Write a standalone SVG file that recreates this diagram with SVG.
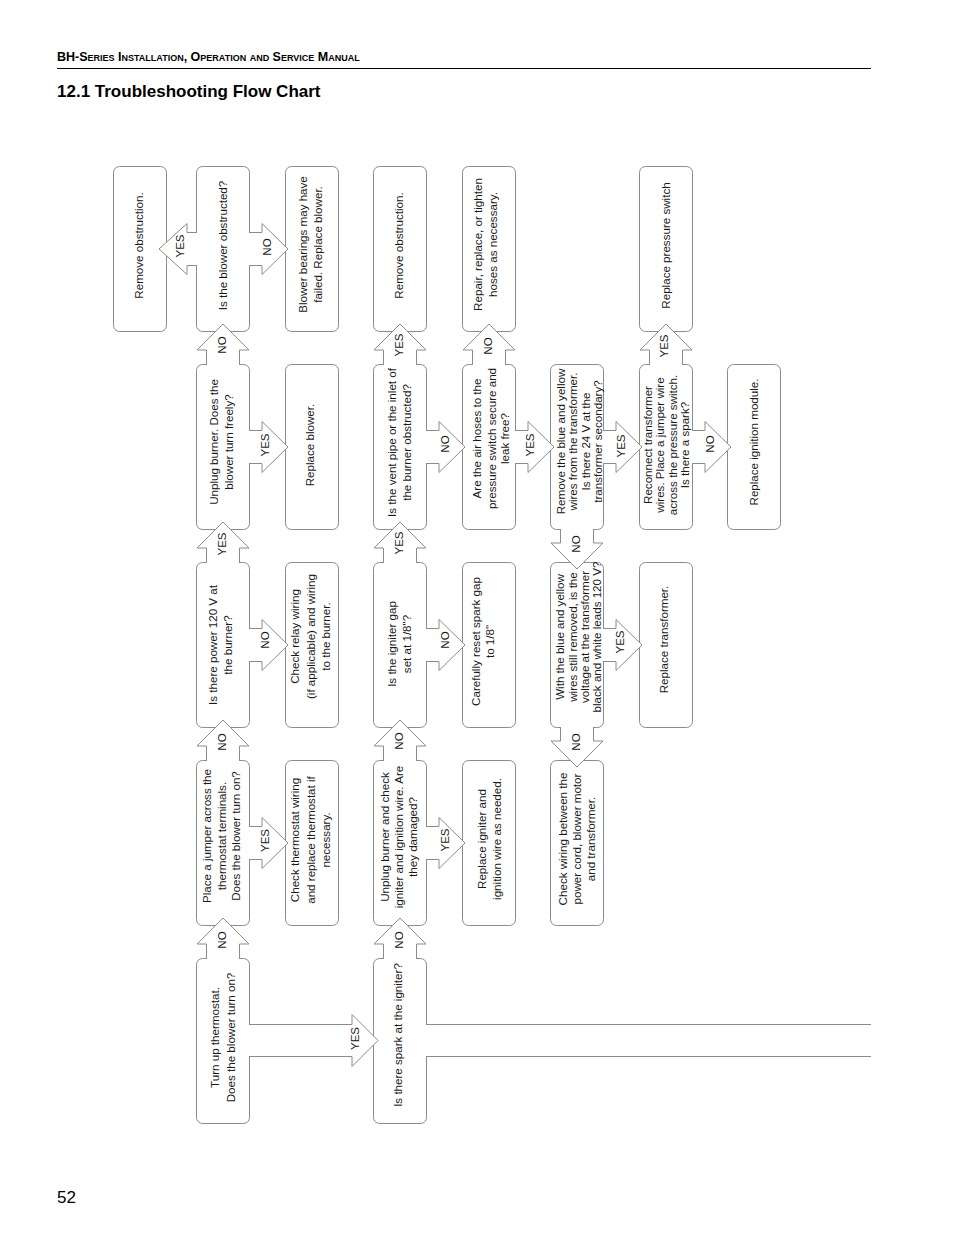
<svg xmlns="http://www.w3.org/2000/svg" width="954" height="1235" viewBox="0 0 954 1235">
<defs>
<style>
.bx{fill:#fff;stroke:#8c8c8c;stroke-width:1}
.ar{fill:#fff;stroke:#8c8c8c;stroke-width:1;stroke-linejoin:miter}
.t{font-family:"Liberation Sans",Arial,sans-serif;font-size:11.6px;fill:#1a1a1a;text-anchor:middle}
.l{font-family:"Liberation Sans",Arial,sans-serif;font-size:11.5px;fill:#1a1a1a;text-anchor:middle}
.hd{font-family:"Liberation Sans",Arial,sans-serif;font-weight:bold;fill:#000}
</style>
</defs>
<rect width="954" height="1235" fill="#fff"/>
<g id="header">
<text class="hd" x="57" y="61" font-size="12.5" style="font-variant:small-caps">BH-Series Installation, Operation and Service Manual</text>
<line x1="57" y1="68.5" x2="871" y2="68.5" stroke="#000" stroke-width="1"/>
<text class="hd" x="57" y="97" font-size="17">12.1 Troubleshooting Flow Chart</text>
<text x="57" y="1203" font-family="Liberation Sans, Arial, sans-serif" font-size="17" fill="#000">52</text>
</g>
<g id="nodes">
<g id="A1"><rect class="bx" x="113.5" y="166.5" width="53" height="165" rx="6"/>
<text class="t" transform="translate(0,245.5) rotate(-90)"><tspan x="0" y="143">Remove obstruction.</tspan></text></g>
<g id="B1"><rect class="bx" x="196.5" y="166.5" width="53" height="165" rx="6"/>
<text class="t" transform="translate(0,245.5) rotate(-90)"><tspan x="0" y="227">Is the blower obstructed?</tspan></text></g>
<g id="C1"><rect class="bx" x="285.5" y="166.5" width="53" height="165" rx="6"/>
<text class="t" transform="translate(0,244.5) rotate(-90)"><tspan x="0" y="307">Blower bearings may have</tspan><tspan x="0" y="322">failed. Replace blower.</tspan></text></g>
<g id="B2"><rect class="bx" x="196.5" y="364.5" width="53" height="165" rx="6"/>
<text class="t" transform="translate(0,442) rotate(-90)"><tspan x="0" y="217.5">Unplug burner. Does the</tspan><tspan x="0" y="233">blower turn freely?</tspan></text></g>
<g id="C2"><rect class="bx" x="285.5" y="364.5" width="53" height="165" rx="6"/>
<text class="t" transform="translate(0,445) rotate(-90)"><tspan x="0" y="314">Replace blower.</tspan></text></g>
<g id="B3"><rect class="bx" x="196.5" y="562.5" width="53" height="165" rx="6"/>
<text class="t" transform="translate(0,645) rotate(-90)"><tspan x="0" y="217">Is there power 120 V at</tspan><tspan x="0" y="232">the burner?</tspan></text></g>
<g id="C3"><rect class="bx" x="285.5" y="562.5" width="53" height="165" rx="6"/>
<text class="t" transform="translate(0,636.5) rotate(-90)"><tspan x="0" y="299">Check relay wiring</tspan><tspan x="0" y="315">(if applicable) and wiring</tspan><tspan x="0" y="330">to the burner.</tspan></text></g>
<g id="B4"><rect class="bx" x="196.5" y="760.5" width="53" height="165" rx="6"/>
<text class="t" transform="translate(0,836) rotate(-90)"><tspan x="0" y="211">Place a jumper across the</tspan><tspan x="0" y="226">thermostat terminals.</tspan><tspan x="0" y="240">Does the blower turn on?</tspan></text></g>
<g id="C4"><rect class="bx" x="285.5" y="760.5" width="53" height="165" rx="6"/>
<text class="t" transform="translate(0,840) rotate(-90)"><tspan x="0" y="299">Check thermostat wiring</tspan><tspan x="0" y="315">and replace thermostat if</tspan><tspan x="0" y="330">necessary.</tspan></text></g>
<g id="B5"><rect class="bx" x="196.5" y="958.5" width="53" height="165" rx="6"/>
<text class="t" transform="translate(0,1037.5) rotate(-90)"><tspan x="0" y="219">Turn up thermostat.</tspan><tspan x="0" y="235">Does the blower turn on?</tspan></text></g>
<g id="D1"><rect class="bx" x="373.5" y="166.5" width="53" height="165" rx="6"/>
<text class="t" transform="translate(0,245.5) rotate(-90)"><tspan x="0" y="403">Remove obstruction.</tspan></text></g>
<g id="E1"><rect class="bx" x="462.5" y="166.5" width="53" height="165" rx="6"/>
<text class="t" transform="translate(0,244.5) rotate(-90)"><tspan x="0" y="482">Repair, replace, or tighten</tspan><tspan x="0" y="497">hoses as necessary.</tspan></text></g>
<g id="D2"><rect class="bx" x="373.5" y="364.5" width="53" height="165" rx="6"/>
<text class="t" transform="translate(0,442.5) rotate(-90)"><tspan x="0" y="396">Is the vent pipe or the inlet of</tspan><tspan x="0" y="411">the burner obstructed?</tspan></text></g>
<g id="E2"><rect class="bx" x="462.5" y="364.5" width="53" height="165" rx="6"/>
<text class="t" transform="translate(0,438.5) rotate(-90)"><tspan x="0" y="481">Are the air hoses to the</tspan><tspan x="0" y="496">pressure switch secure and</tspan><tspan x="0" y="509">leak free?</tspan></text></g>
<g id="F2"><rect class="bx" x="550.5" y="364.5" width="53" height="165" rx="6"/>
<text class="t" transform="translate(0,441.5) rotate(-90)"><tspan x="0" y="565">Remove the blue and yellow</tspan><tspan x="0" y="577">wires from the transformer.</tspan><tspan x="0" y="590">Is there 24 V at the</tspan><tspan x="0" y="602">transformer secondary?</tspan></text></g>
<g id="G1"><rect class="bx" x="639.5" y="166.5" width="53" height="165" rx="6"/>
<text class="t" transform="translate(0,245.5) rotate(-90)"><tspan x="0" y="670">Replace pressure switch</tspan></text></g>
<g id="G2"><rect class="bx" x="639.5" y="364.5" width="53" height="165" rx="6"/>
<text class="t" transform="translate(0,445) rotate(-90)"><tspan x="0" y="651.5">Reconnect transformer</tspan><tspan x="0" y="664">wires. Place a jumper wire</tspan><tspan x="0" y="676.5">across the pressure switch.</tspan><tspan x="0" y="689">Is there a spark?</tspan></text></g>
<g id="H2"><rect class="bx" x="727.5" y="364.5" width="53" height="165" rx="6"/>
<text class="t" transform="translate(0,442) rotate(-90)"><tspan x="0" y="758">Replace ignition module.</tspan></text></g>
<g id="D3"><rect class="bx" x="373.5" y="562.5" width="53" height="165" rx="6"/>
<text class="t" transform="translate(0,644) rotate(-90)"><tspan x="0" y="396">Is the igniter gap</tspan><tspan x="0" y="411">set at 1/8"?</tspan></text></g>
<g id="E3"><rect class="bx" x="462.5" y="562.5" width="53" height="165" rx="6"/>
<text class="t" transform="translate(0,641.5) rotate(-90)"><tspan x="0" y="480">Carefully reset spark gap</tspan><tspan x="0" y="494">to 1/8"</tspan></text></g>
<g id="F3"><rect class="bx" x="550.5" y="562.5" width="53" height="165" rx="6"/>
<text class="t" transform="translate(0,637) rotate(-90)"><tspan x="0" y="564">With the blue and yellow</tspan><tspan x="0" y="576.5">wires still removed, is the</tspan><tspan x="0" y="588.5">voltage at the transformer</tspan><tspan x="0" y="601">black and white leads 120 V?</tspan></text></g>
<g id="G3"><rect class="bx" x="639.5" y="562.5" width="53" height="165" rx="6"/>
<text class="t" transform="translate(0,639.5) rotate(-90)"><tspan x="0" y="668">Replace transformer.</tspan></text></g>
<g id="D4"><rect class="bx" x="373.5" y="760.5" width="53" height="165" rx="6"/>
<text class="t" transform="translate(0,837) rotate(-90)"><tspan x="0" y="389">Unplug burner and check</tspan><tspan x="0" y="403">igniter and ignition wire. Are</tspan><tspan x="0" y="417">they damaged?</tspan></text></g>
<g id="E4"><rect class="bx" x="462.5" y="760.5" width="53" height="165" rx="6"/>
<text class="t" transform="translate(0,839) rotate(-90)"><tspan x="0" y="486">Replace igniter and</tspan><tspan x="0" y="501">ignition wire as needed.</tspan></text></g>
<g id="F4"><rect class="bx" x="550.5" y="760.5" width="53" height="165" rx="6"/>
<text class="t" transform="translate(0,839) rotate(-90)"><tspan x="0" y="567">Check wiring between the</tspan><tspan x="0" y="581">power cord, blower motor</tspan><tspan x="0" y="595">and transformer.</tspan></text></g>
<g id="D5"><rect class="bx" x="373.5" y="958.5" width="53" height="165" rx="6"/>
<text class="t" transform="translate(0,1035) rotate(-90)"><tspan x="0" y="402">Is there spark at the igniter?</tspan></text></g>
</g>
<g id="connectors">
<path class="ar" d="M197,232.5 H187 V223.5 L159,249 L187,274.5 V265.5 H197"/>
<path class="ar" d="M249,232.5 H262 V223.5 L288,249 L262,274.5 V265.5 H249"/>
<path class="ar" d="M206.5,365 V350 H197 L223,324 L249,350 H239.5 V365"/>
<path class="ar" d="M249,430.5 H262 V421.5 L288,447 L262,472.5 V463.5 H249"/>
<path class="ar" d="M206.5,563 V548 H197 L223,522 L249,548 H239.5 V563"/>
<path class="ar" d="M249,628.5 H262 V619.5 L288,645 L262,670.5 V661.5 H249"/>
<path class="ar" d="M206.5,761 V746 H197 L223,720 L249,746 H239.5 V761"/>
<path class="ar" d="M249,826.5 H262 V817.5 L288,843 L262,868.5 V859.5 H249"/>
<path class="ar" d="M206.5,959 V944 H197 L223,918 L249,944 H239.5 V959"/>
<path class="ar" d="M249,1024.5 H352 V1014.5 L378,1040.5 L352,1066.5 V1056.5 H249"/>
<rect x="425.5" y="1025" width="2" height="31" fill="#fff"/>
<path d="M426,1024.5 H871 M426,1056.5 H871" fill="none" stroke="#8c8c8c" stroke-width="1"/>
<path class="ar" d="M383.5,959 V944 H374 L400,918 L426,944 H416.5 V959"/>
<path class="ar" d="M383.5,761 V746 H374 L400,720 L426,746 H416.5 V761"/>
<path class="ar" d="M426,826.5 H439 V817.5 L465,843 L439,868.5 V859.5 H426"/>
<path class="ar" d="M383.5,563 V548 H374 L400,522 L426,548 H416.5 V563"/>
<path class="ar" d="M426,628.5 H439 V619.5 L465,645 L439,670.5 V661.5 H426"/>
<path class="ar" d="M383.5,365 V350 H374 L400,324 L426,350 H416.5 V365"/>
<path class="ar" d="M426,430.5 H439 V421.5 L465,447 L439,472.5 V463.5 H426"/>
<path class="ar" d="M472.5,365 V350 H463 L489,324 L515,350 H505.5 V365"/>
<path class="ar" d="M515,430.5 H528 V421.5 L554,447 L528,472.5 V463.5 H515"/>
<path class="ar" d="M603,430.5 H616 V421.5 L642,447 L616,472.5 V463.5 H603"/>
<path class="ar" d="M560.5,529 V543 H551 L577,569 L603,543 H593.5 V529"/>
<path class="ar" d="M603,628.5 H616 V619.5 L642,645 L616,670.5 V661.5 H603"/>
<path class="ar" d="M560.5,727 V741 H551 L577,767 L603,741 H593.5 V727"/>
<path class="ar" d="M649.5,365 V350 H640 L666,324 L692,350 H682.5 V365"/>
<path class="ar" d="M692,430.5 H705 V421.5 L731,447 L705,472.5 V463.5 H692"/>
<g class="l">
<text transform="translate(0,246) rotate(-90)" x="0" y="184">YES</text>
<text transform="translate(0,247) rotate(-90)" x="0" y="271">NO</text>
<text transform="translate(0,345) rotate(-90)" x="0" y="226">NO</text>
<text transform="translate(0,445) rotate(-90)" x="0" y="269">YES</text>
<text transform="translate(0,544) rotate(-90)" x="0" y="226">YES</text>
<text transform="translate(0,640) rotate(-90)" x="0" y="269">NO</text>
<text transform="translate(0,742) rotate(-90)" x="0" y="226">NO</text>
<text transform="translate(0,840.5) rotate(-90)" x="0" y="269">YES</text>
<text transform="translate(0,940) rotate(-90)" x="0" y="226">NO</text>
<text transform="translate(0,1038.5) rotate(-90)" x="0" y="359">YES</text>
<text transform="translate(0,345) rotate(-90)" x="0" y="403">YES</text>
<text transform="translate(0,346) rotate(-90)" x="0" y="492">NO</text>
<text transform="translate(0,444) rotate(-90)" x="0" y="449">NO</text>
<text transform="translate(0,445) rotate(-90)" x="0" y="534">YES</text>
<text transform="translate(0,446) rotate(-90)" x="0" y="625">YES</text>
<text transform="translate(0,444) rotate(-90)" x="0" y="714">NO</text>
<text transform="translate(0,346) rotate(-90)" x="0" y="668">YES</text>
<text transform="translate(0,544) rotate(-90)" x="0" y="580">NO</text>
<text transform="translate(0,543) rotate(-90)" x="0" y="403">YES</text>
<text transform="translate(0,640) rotate(-90)" x="0" y="449">NO</text>
<text transform="translate(0,642) rotate(-90)" x="0" y="624">YES</text>
<text transform="translate(0,741) rotate(-90)" x="0" y="403">NO</text>
<text transform="translate(0,840) rotate(-90)" x="0" y="449">YES</text>
<text transform="translate(0,742) rotate(-90)" x="0" y="580">NO</text>
<text transform="translate(0,940) rotate(-90)" x="0" y="403">NO</text>
</g>
</g>
</svg>
